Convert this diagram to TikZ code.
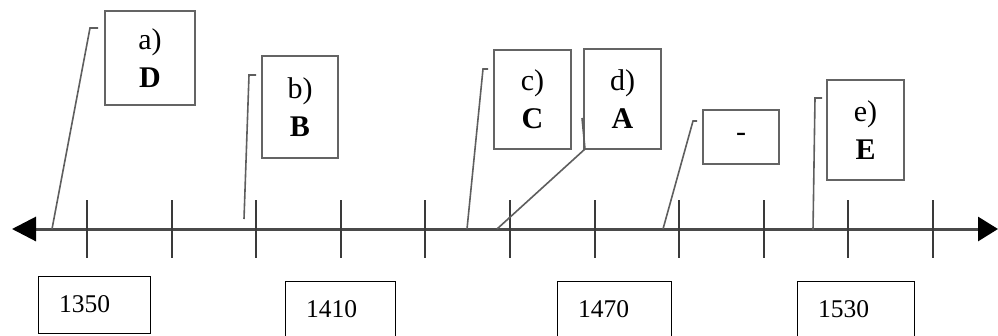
\documentclass[tikz,border=0pt]{standalone}
\usepackage{fontspec}
\setmainfont{Liberation Serif}
\usepackage{xcolor}
\usetikzlibrary{arrows.meta}
\definecolor{axisgray}{HTML}{4A4A4A}
\definecolor{tickgray}{HTML}{3A3A3A}
\definecolor{callgray}{HTML}{5E5E5E}
\definecolor{boxgray}{HTML}{646464}
\tikzset{
  axisline/.style={draw=axisgray, line width=3pt,
    {Triangle[length=24pt,width=24pt,color=black]}-{Triangle[length=20pt,width=24pt,color=black]}},
  tickmark/.style={draw=tickgray, line width=2pt},
  callout/.style={draw=callgray, line width=1.6pt},
  lblbox/.style={draw=boxgray, line width=2pt, align=center, inner sep=0pt,
    font=\fontsize{30}{38}\selectfont},
  yearbox/.style={draw=black, line width=0.9pt, align=left, inner xsep=21pt,
    minimum height=57pt, font=\fontsize{25.5}{30}\selectfont}
}
\begin{document}
\begin{tikzpicture}[x=1pt, y=-1pt]
  \useasboundingbox (0,0) rectangle (998,335);

  % time axis
  \coordinate (L) at (12,229);
  \coordinate (R) at (998,229);
  \draw[axisline] (L) -- (R);
  \foreach \i in {0,...,10}
    \draw[tickmark] (87+84.6*\i,200) -- (87+84.6*\i,258);

  % answer boxes
  \node[lblbox, minimum width=90pt, minimum height=94pt] (boxa) at (150,58) {a)\\\textbf{D}};
  \node[lblbox, minimum width=76pt, minimum height=102pt] (boxb) at (300,107) {b)\\\textbf{B}};
  \node[lblbox, minimum width=77pt, minimum height=99pt] (boxc) at (532.5,99.5) {c)\\\textbf{C}};
  \node[lblbox, minimum width=77pt, minimum height=100pt] (boxd) at (622.5,99) {d)\\\textbf{A}};
  \node[lblbox, minimum width=76pt, minimum height=54pt] (boxx) at (741,137) {-};
  \node[lblbox, minimum width=77pt, minimum height=100pt] (boxe) at (865.5,130) {e)\\\textbf{E}};

  % callout lines
  \coordinate (a0) at (52,229);  \coordinate (a1) at (90,28);   \coordinate (a2) at (98,28);
  \coordinate (b0) at (244,219); \coordinate (b1) at (249,75);  \coordinate (b2) at (256,75);
  \coordinate (c0) at (467,229); \coordinate (c1) at (483,69);  \coordinate (c2) at (488,69);
  \coordinate (d0) at (497,229); \coordinate (d1) at (585,149); \coordinate (d2) at (582,118);
  \coordinate (x0) at (663,229); \coordinate (x1) at (693,121); \coordinate (x2) at (697,121);
  \coordinate (e0) at (813,230); \coordinate (e1) at (815,98);  \coordinate (e2) at (822,98);
  \foreach \p in {a,b,c,d,x,e}
    \draw[callout] (\p0) -- (\p1) -- (\p2);

  % year boxes
  \node[yearbox, text width=70pt] (y1350) at (94,304.5) {1350};
  \node[yearbox, text width=68pt] (y1410) at (340,309.5) {1410};
  \node[yearbox, text width=72pt] (y1470) at (614,309.5) {1470};
  \node[yearbox, text width=75pt] (y1530) at (855.5,309.5) {1530};
\end{tikzpicture}
\end{document}
